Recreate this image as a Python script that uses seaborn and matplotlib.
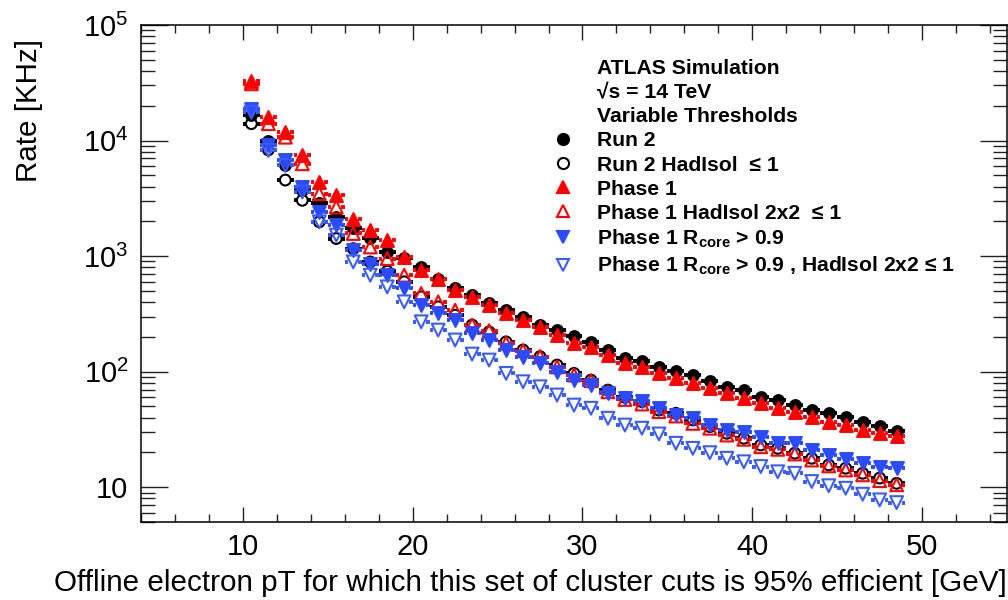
import numpy as np
import pandas as pd
import matplotlib
matplotlib.use("Agg")
import matplotlib.pyplot as plt
import seaborn as sns
from matplotlib.ticker import MultipleLocator, LogLocator, FuncFormatter, NullFormatter
from matplotlib.lines import Line2D

# ---------------- data ----------------
pt_bins = [10.5, 11.5, 12.5, 13.5, 14.5, 15.5, 16.5, 17.5, 18.5, 19.5,
           20.5, 21.5, 22.5, 23.5, 24.5, 25.5, 26.5, 27.5, 28.5, 29.5,
           30.5, 31.5, 32.5, 33.5, 34.5, 35.5, 36.5, 37.5, 38.5, 39.5,
           40.5, 41.5, 42.5, 43.5, 44.5, 45.5, 46.5, 47.5, 48.5]

run2 = [16500, 10000, 6100, 3720, 2870, 2180, 1740, 1430, 1090, 955,
        807, 640, 525, 460, 390, 340, 295, 253, 229, 203,
        181, 154, 130, 124, 110, 102, 93.5, 83.4, 73, 69.3,
        60.7, 56.8, 51.4, 46.5, 43.6, 40.3, 36.9, 34.1, 30.8]

run2_hadisol = [14000, 8300, 4550, 3040, 1980, 1420, 1160, 890, 740, 600,
                444, 364, 308, 253, 221, 181, 154, 135, 114, 96.6,
                84.5, 69.3, 60, 55, 46.5, 43.6, 38.2, 33.4, 29.3, 26.5,
                23.2, 21.7, 19.7, 17.8, 15.6, 14.6, 13.2, 12.0, 10.8]

phase1 = [33000, 16000, 11800, 7450, 4370, 3360, 2110, 1670, 1370, 985,
          755, 628, 514, 444, 376, 319, 279, 244, 207, 176,
          164, 139, 118, 110, 96.6, 87.5, 79.2, 71.8, 65, 58.8,
          53.8, 48.2, 45.1, 40.3, 36.9, 34.5, 31.3, 29.3, 27.7]

phase1_hadisol = [31000, 14000, 10700, 6300, 3470, 2660, 1570, 1200, 953, 684,
                  475, 402, 340, 253, 226, 176, 152, 135, 110, 93.5,
                  83.4, 67, 57.5, 52.5, 45.1, 41.3, 35.7, 32.4, 28.3, 26.0,
                  22.4, 21.3, 19.4, 17.2, 15.3, 14.1, 12.8, 11.4, 10.5]

phase1_rcore = [18900, 9080, 6750, 3960, 2410, 1850, 1125, 863, 684, 525,
                377, 319, 279, 214, 188, 154, 135, 118, 99.8, 84.5,
                76.6, 65, 58.8, 56.1, 48.2, 42.2, 39.5, 34.5, 31.3, 30.3,
                27.4, 24.3, 24.0, 21.0, 19.0, 17.5, 16.3, 15.1, 14.6]

phase1_rcore_hadisol = [17600, 8220, 6100, 3590, 1980, 1520, 891, 684, 542, 402,
                        270, 229, 188, 142, 126, 96.6, 81.8, 74, 62.8, 51.4,
                        48.2, 39.5, 34.5, 32.4, 28.9, 24.0, 21.7, 19.9, 17.8, 16.6,
                        15.1, 13.6, 13.2, 11.2, 10.3, 9.8, 8.7, 7.77, 7.36]

series_labels = [
    "Run 2",
    "Run 2 HadIsol  \u2264 1",
    "Phase 1",
    "Phase 1 HadIsol 2x2  \u2264 1",
    r"Phase 1 R$_{\mathbf{core}}$ > 0.9",
    r"Phase 1 R$_{\mathbf{core}}$ > 0.9 , HadIsol 2x2" + " \u2264 1",
]
header_lines = ["ATLAS Simulation", "\u221as = 14 TeV", "Variable Thresholds"]

# ---------------- style ----------------
sns.set_style("ticks")
plt.rcParams["font.family"] = ["Liberation Sans", "DejaVu Sans"]
plt.rcParams["mathtext.fontset"] = "custom"
plt.rcParams["mathtext.rm"] = "Liberation Sans"
plt.rcParams["mathtext.bf"] = "Liberation Sans:bold"
plt.rcParams["mathtext.it"] = "Liberation Sans:italic"
for k in ["text.color", "axes.labelcolor", "xtick.color", "ytick.color", "axes.edgecolor"]:
    plt.rcParams[k] = "black"

fig = plt.figure(figsize=(10.08, 6.0), dpi=100)
ax = fig.add_axes([141 / 1008, 78 / 600, 866 / 1008, 497 / 600])

styles = [
    (run2, "o", "black", True, 60),
    (run2_hadisol, "o", "black", False, 60),
    (phase1, "^", "#ff0000", True, 85),
    (phase1_hadisol, "^", "#ff0000", False, 85),
    (phase1_rcore, "v", "#2a4bff", True, 85),
    (phase1_rcore_hadisol, "v", "#3a5cff", False, 85),
]

x = np.array(pt_bins)
half = 0.5
gap = 0.3
for i, (vals, m, c, filled, s) in enumerate(styles):
    v = np.array(vals)
    ax.hlines(v, x - half, x - gap, color=c, lw=2.8, zorder=2 + i)
    ax.hlines(v, x + gap, x + half, color=c, lw=2.8, zorder=2 + i)
    sns.scatterplot(x=x, y=v, marker=m, s=s, color=c, edgecolor=c,
                    linewidth=1.5, ax=ax, legend=False, zorder=3 + i)
    coll = ax.collections[-1]
    if not filled:
        coll.set_facecolor("none")
        coll.set_edgecolor(c)

ax.set_yscale("log")
ax.set_xlim(4, 55)
ax.set_ylim(5, 1e5)

ax.xaxis.set_major_locator(MultipleLocator(10))
ax.xaxis.set_minor_locator(MultipleLocator(2))
ax.yaxis.set_major_locator(LogLocator(base=10, numticks=10))
ax.yaxis.set_minor_locator(LogLocator(base=10, subs=np.arange(2, 10), numticks=20))
ax.yaxis.set_minor_formatter(NullFormatter())


def yfmt(v, p):
    e = int(round(np.log10(v)))
    if e == 1:
        return "10"
    return r"$\mathregular{10^{%d}}$" % e


ax.yaxis.set_major_formatter(FuncFormatter(yfmt))

ax.tick_params(which="both", direction="in", top=True, right=True,
               color="#222222", labelcolor="black", width=1.0, labelsize=21)
ax.tick_params(axis="x", which="major", length=10.8, pad=8)
ax.tick_params(axis="x", which="minor", length=5.8)
ax.tick_params(axis="y", which="major", length=19.4, pad=9)
ax.tick_params(axis="y", which="minor", length=10)
for sp in ax.spines.values():
    sp.set_linewidth(1.1)
    sp.set_color("black")
    sp.set_visible(True)

ax.set_xlabel("Offline electron pT for which this set of cluster cuts is 95% efficient [GeV]",
              fontsize=21.3, ha="right", color="black")
ax.xaxis.set_label_coords(1.0, -0.094)
ax.xaxis.label.set_va("top")
ax.set_ylabel("Rate [KHz]", fontsize=21.3, color="black")
ax.yaxis.set_label_coords(-0.113, 0.827)

# legend
handles = [Line2D([], [], ls="none", marker=None) for _ in header_lines]
for vals, m, c, filled, s in styles:
    handles.append(Line2D([], [], ls="none", marker=m, color=c,
                          mfc=c if filled else "none", mec=c, ms=8, mew=1.5))
labels = header_lines + series_labels
leg = ax.legend(handles, labels, loc="upper left", bbox_to_anchor=(0.4754, 0.931),
                frameon=False, borderpad=0, borderaxespad=0, handlelength=1.0,
                handletextpad=1.1, labelspacing=0.24,
                prop={"weight": "bold", "size": 15.2})
for t in leg.get_texts():
    t.set_color("black")

fig.savefig("out.png", dpi=100)
